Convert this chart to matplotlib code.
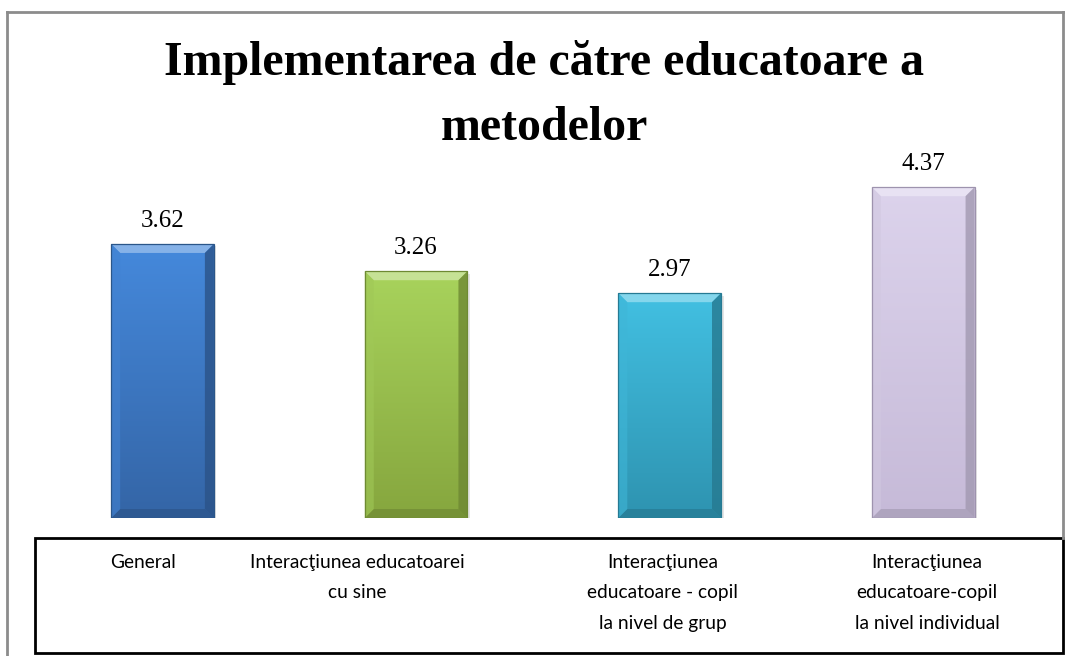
import numpy as np
import matplotlib
matplotlib.use("Agg")
import matplotlib.pyplot as plt
from matplotlib.patches import Rectangle, Polygon
from matplotlib.colors import to_rgb
from matplotlib.lines import Line2D

# ---- data ----
title = "Implementarea de către educatoare a\nmetodelor"
categories = [
    "General",
    "Interacţiunea educatoarei\ncu sine",
    "Interacţiunea\neducatoare - copil\nla nivel de grup",
    "Interacţiunea\neducatoare-copil\nla nivel individual",
]
values = [3.62, 3.26, 2.97, 4.37]

# ---- style ----
top_colors = ["#4589DC", "#A8D35C", "#42C0E2", "#DCD3EC"]
bot_colors = ["#3465A6", "#86A63E", "#2E93B0", "#C6BAD8"]
edge_colors = ["#2B5689", "#6E8A33", "#267A93", "#9E93AE"]
label_shift_px = [-20, -59, -7, 4]

W, H, DPI = 1065, 656, 100
fig = plt.figure(figsize=(W / DPI, H / DPI), dpi=DPI)
fig.patch.set_facecolor("white")

def fx(px):
    return px / W

def fy(py):
    return 1 - py / H

# axes placement
ax_left, ax_right = 35.75, 1050
ax_bottom_px, ax_top_px = 518, 139.5
ax = fig.add_axes([fx(ax_left), fy(ax_bottom_px), fx(ax_right - ax_left),
                   (ax_bottom_px - ax_top_px) / H])
ax.set_xlim(-0.5, len(values) - 0.5)
ax.set_ylim(0, 5)
ax.axis("off")

x = np.arange(len(values))
bars = ax.bar(x, values, width=0.405, color="none", edgecolor="none", zorder=3)

px_per_x = (ax_right - ax_left) / len(values)
px_per_y = (ax_bottom_px - ax_top_px) / 5.0
bev_x = 9 / px_per_x
bev_y = 9 / px_per_y

def mix(c, t, k):
    c = np.array(to_rgb(c)); t = np.array(to_rgb(t))
    return tuple(c + (t - c) * k)

for i, b in enumerate(bars):
    x0, y0 = b.get_x(), b.get_y()
    w, h = b.get_width(), b.get_height()
    # shadow
    sh = Rectangle((x0 + 2.5 / px_per_x, y0 - 2.5 / px_per_y), w, h,
                   facecolor="#000000", alpha=0.10, edgecolor="none", zorder=2)
    ax.add_patch(sh)
    # gradient fill
    top = np.array(to_rgb(top_colors[i])); bot = np.array(to_rgb(bot_colors[i]))
    n = 256
    t = np.linspace(0, 1, n)[:, None]
    grad = (top[None, :] * (1 - t) + bot[None, :] * t)[:, None, :]
    im = ax.imshow(grad, extent=(x0, x0 + w, y0, y0 + h), aspect="auto",
                   zorder=3, interpolation="bilinear")
    clip = Rectangle((x0, y0), w, h, transform=ax.transData)
    im.set_clip_path(clip)
    # bevels
    tl = (x0, y0 + h); tr = (x0 + w, y0 + h)
    bl = (x0, y0); br = (x0 + w, y0)
    itl = (x0 + bev_x, y0 + h - bev_y); itr = (x0 + w - bev_x, y0 + h - bev_y)
    ibl = (x0 + bev_x, y0 + bev_y); ibr = (x0 + w - bev_x, y0 + bev_y)
    ax.add_patch(Polygon([tl, tr, itr, itl], closed=True,
                         facecolor=mix(top_colors[i], "white", 0.35),
                         edgecolor="none", zorder=4))
    ax.add_patch(Polygon([bl, br, ibr, ibl], closed=True,
                         facecolor=mix(bot_colors[i], "black", 0.12),
                         edgecolor="none", zorder=4))
    ax.add_patch(Polygon([tl, bl, ibl, itl], closed=True,
                         facecolor=mix(top_colors[i], "black", 0.05),
                         edgecolor="none", alpha=0.6, zorder=4))
    ax.add_patch(Polygon([tr, br, ibr, itr], closed=True,
                         facecolor=mix(bot_colors[i], "black", 0.18),
                         edgecolor="none", alpha=0.8, zorder=4))
    ax.add_patch(Rectangle((x0, y0), w, h, facecolor="none",
                           edgecolor=edge_colors[i], linewidth=0.9, zorder=5))
    # value label
    ax.annotate(f"{values[i]:.2f}", (x0 + w / 2, y0 + h), xytext=(0, 17),
                textcoords="offset pixels",
                ha="center", va="baseline", fontsize=18,
                family="Liberation Serif", color="black", zorder=6)

# title
fig.text(fx(544), fy(140), title, ha="center", va="baseline",
         fontsize=34.5, fontweight="bold", family="Liberation Serif",
         linespacing=1.63)

# outer frame (gray)
frame_col = "#8C8C8C"
fig.add_artist(Line2D([fx(7), fx(7)], [fy(12), fy(656)], color=frame_col, lw=2))
fig.add_artist(Line2D([fx(7), fx(1063)], [fy(12), fy(12)], color=frame_col, lw=2))
fig.add_artist(Line2D([fx(1063), fx(1063)], [fy(12), fy(538)], color=frame_col, lw=2))

# category table box
fig.add_artist(Rectangle((fx(35), fy(653)), fx(1063 - 35), (653 - 538) / H,
                         facecolor="none", edgecolor="black", lw=2,
                         transform=fig.transFigure))

for i, lab in enumerate(categories):
    bx = bars[i].get_x() + bars[i].get_width() / 2
    disp = ax.transData.transform((bx, 0))
    xpx = disp[0] + label_shift_px[i]
    fig.text(xpx / W, fy(554), lab, ha="center", va="top", fontsize=13.8,
             family=["Lato", "DejaVu Sans"], linespacing=1.95, color="black")

fig.savefig("out.png", dpi=DPI, facecolor="white")
